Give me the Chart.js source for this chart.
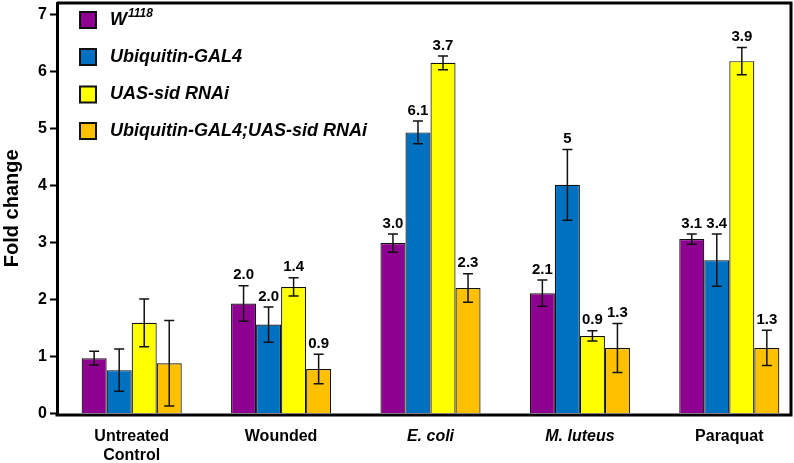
<!DOCTYPE html>
<html>
<head>
<meta charset="utf-8">
<script src="https://cdn.jsdelivr.net/npm/chart.js@4/dist/chart.umd.min.js"></script>
<style>
  html, body { margin: 0; padding: 0; background: #fff; overflow: hidden; }
  #wrap { width: 794px; height: 463px; overflow: hidden; }
</style>
</head>
<body>
<div id="wrap"><canvas id="chart" width="810" height="463"></canvas></div>
<script>
// categorias y series
const categories = [['Untreated', 'Control'], 'Wounded', 'E. coli', 'M. luteus', 'Paraquat'];
const italicCats = [false, false, true, true, false];
const seriesNames = ['W', 'Ubiquitin-GAL4', 'UAS-sid RNAi', 'Ubiquitin-GAL4;UAS-sid RNAi'];
const seriesSup = ['1118', '', '', ''];
const seriesColors = ['#8E0090', '#0070C0', '#FFFF00', '#FFC000'];

// valores medios (fold change)
const w1118 = [0.97, 1.93, 2.99, 2.11, 3.06];
const ubiGal4 = [0.76, 1.56, 4.93, 4.01, 2.69];
const uasSid = [1.59, 2.22, 6.15, 1.36, 6.18];
const ubiUasSid = [0.88, 0.78, 2.2, 1.15, 1.15];

// barras de error (+/-)
const w1118Err = [0.12, 0.31, 0.16, 0.23, 0.09];
const ubiGal4Err = [0.37, 0.31, 0.2, 0.62, 0.46];
const uasSidErr = [0.42, 0.16, 0.12, 0.09, 0.24];
const ubiUasSidErr = [0.75, 0.26, 0.25, 0.43, 0.31];

// textos sobre las barras
const w1118Lbl = ['', '2.0', '3.0', '2.1', '3.1'];
const ubiGal4Lbl = ['', '2.0', '6.1', '5', '3.4'];
const uasSidLbl = ['', '1.4', '3.7', '0.9', '3.9'];
const ubiUasSidLbl = ['', '0.9', '2.3', '1.3', '1.3'];

const yTicks = [0, 1, 2, 3, 4, 5, 6, 7];

const seriesValues = [w1118, ubiGal4, uasSid, ubiUasSid];
const seriesErrors = [w1118Err, ubiGal4Err, uasSidErr, ubiUasSidErr];
const seriesLabels = [w1118Lbl, ubiGal4Lbl, uasSidLbl, ubiUasSidLbl];

const FONT = "'Liberation Sans', Arial, Helvetica, sans-serif";

//Dibuja barras de error y etiquetas de valor
const errorBarPlugin = {
    id: 'errorBars',
    afterDatasetsDraw(chart) {
        const ctx = chart.ctx;
        const yScale = chart.scales.y;
        ctx.save();
        chart.data.datasets.forEach((ds, di) => {
            const meta = chart.getDatasetMeta(di);
            meta.data.forEach((bar, i) => {
                const v = seriesValues[di][i];
                const e = seriesErrors[di][i];
                const yTop = yScale.getPixelForValue(v + e);
                const yBot = yScale.getPixelForValue(v - e);
                ctx.strokeStyle = '#111';
                ctx.lineWidth = 1.5;
                ctx.beginPath();
                ctx.moveTo(bar.x, yTop);
                ctx.lineTo(bar.x, yBot);
                ctx.moveTo(bar.x - 5, yTop);
                ctx.lineTo(bar.x + 5, yTop);
                ctx.moveTo(bar.x - 5, yBot);
                ctx.lineTo(bar.x + 5, yBot);
                ctx.stroke();
                const txt = seriesLabels[di][i];
                if (txt) {
                    ctx.fillStyle = '#000';
                    ctx.font = 'bold 15px ' + FONT;
                    ctx.textAlign = 'center';
                    ctx.textBaseline = 'bottom';
                    ctx.fillText(txt, bar.x, yTop - 3);
                }
            });
        });
        ctx.restore();
    }
};

//Marco completo y leyenda
const framePlugin = {
    id: 'frame',
    afterDraw(chart) {
        const ctx = chart.ctx;
        const a = chart.chartArea;
        const rightX = 791;
        ctx.save();
        ctx.strokeStyle = '#000';
        ctx.lineWidth = 3;
        ctx.beginPath();
        ctx.moveTo(a.left, a.top);
        ctx.lineTo(rightX, a.top);
        ctx.lineTo(rightX, a.bottom + 1.5);
        ctx.lineTo(a.left - 1.5, a.bottom + 1.5);
        ctx.stroke();

        // leyenda
        const boxX = 80, boxSize = 16, textX = 110;
        const rows = [20, 57, 94.5, 131];
        seriesNames.forEach((name, i) => {
            const cy = rows[i];
            ctx.fillStyle = seriesColors[i];
            ctx.fillRect(boxX, cy - boxSize / 2, boxSize, boxSize);
            ctx.lineWidth = 2;
            ctx.strokeStyle = '#111';
            ctx.strokeRect(boxX, cy - boxSize / 2, boxSize, boxSize);
            ctx.fillStyle = '#000';
            ctx.textAlign = 'left';
            ctx.textBaseline = 'middle';
            ctx.font = 'italic bold 18px ' + FONT;
            ctx.fillText(name, textX, cy);
            if (seriesSup[i]) {
                const w = ctx.measureText(name).width;
                ctx.font = 'italic bold 12px ' + FONT;
                ctx.fillText(seriesSup[i], textX + w + 1, cy - 6);
            }
        });
        ctx.restore();
    }
};

const datasets = seriesNames.map((name, i) => ({
    label: name + seriesSup[i],
    data: seriesValues[i],
    backgroundColor: seriesColors[i],
    borderColor: '#111',
    borderWidth: 1.2,
    categoryPercentage: 0.67,
    barPercentage: 1.0
}));

new Chart(document.getElementById('chart'), {
    type: 'bar',
    data: { labels: categories, datasets: datasets },
    options: {
        responsive: false,
        animation: false,
        devicePixelRatio: 1,
        layout: { padding: { top: 3, right: 6, left: 0, bottom: 0 } },
        plugins: {
            legend: { display: false },
            tooltip: { enabled: false }
        },
        scales: {
            x: {
                grid: { display: false, drawTicks: false },
                border: { display: false },
                ticks: {
                    color: '#000',
                    padding: 13,
                    maxRotation: 0,
                    autoSkip: false,
                    font: (c) => ({
                        family: FONT,
                        size: 16,
                        weight: 'bold',
                        style: italicCats[c.index] ? 'italic' : 'normal',
                        lineHeight: 1.2
                    })
                },
                afterFit: (s) => { s.height = 49.5; s.paddingLeft = 0; s.paddingRight = 0; }
            },
            y: {
                min: 0,
                max: 7.2,
                afterBuildTicks: (s) => { s.ticks = yTicks.map(v => ({ value: v })); },
                grid: {
                    drawOnChartArea: false,
                    drawTicks: true,
                    tickLength: 7,
                    tickColor: '#000',
                    tickWidth: 2
                },
                border: { display: true, color: '#000', width: 3 },
                ticks: {
                    color: '#000',
                    padding: 3,
                    font: { family: FONT, size: 16, weight: 'bold' }
                },
                title: {
                    display: true,
                    text: 'Fold change',
                    color: '#000',
                    padding: { top: 0, bottom: 4 },
                    font: { family: FONT, size: 20, weight: 'bold' }
                },
                afterFit: (s) => { s.width = 57; s.paddingTop = 0; s.paddingBottom = 0; }
            }
        }
    },
    plugins: [errorBarPlugin, framePlugin]
});
</script>
</body>
</html>
